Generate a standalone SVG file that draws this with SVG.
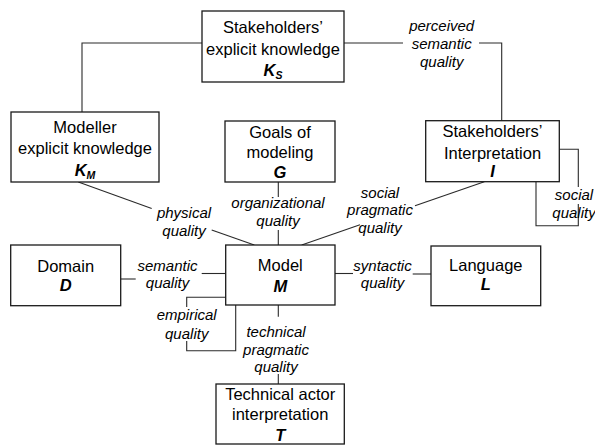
<svg xmlns="http://www.w3.org/2000/svg" width="595" height="445" viewBox="0 0 595 445">
<style>
.box{fill:#fff;stroke:#1a1a1a;stroke-width:1.3}
.t{font-family:"Liberation Sans",Arial,sans-serif;font-size:16.5px;fill:#000;text-anchor:middle}
.s{font-weight:bold;font-style:italic}
.sub{font-size:10.5px}
.l{font-family:"Liberation Sans",Arial,sans-serif;font-size:15px;font-style:italic;fill:#000;text-anchor:middle}
.c{fill:none;stroke:#2a2a2a;stroke-width:1.1}
</style>
<rect width="595" height="445" fill="#fff"/>
<g id="connectors">
<polyline class="c" points="202,43 82,43 82,112"/>
<line class="c" x1="344" y1="43" x2="403" y2="43"/>
<polyline class="c" points="479,43 501.7,43 501.7,120.7"/>
<polyline class="c" points="559.3,149.3 578.3,149.3 578.3,187"/>
<polyline class="c" points="578.3,204 578.3,225.7 536,225.7 536,181.7"/>
<line class="c" x1="278.3" y1="182" x2="278.3" y2="197"/>
<line class="c" x1="278.3" y1="230" x2="278.3" y2="245"/>
<line class="c" x1="78.3" y1="182" x2="151.7" y2="208.4"/>
<line class="c" x1="211.7" y1="229.9" x2="254.3" y2="245"/>
<line class="c" x1="484.3" y1="181.7" x2="415" y2="205.7"/>
<line class="c" x1="360" y1="224.8" x2="301.7" y2="245"/>
<line class="c" x1="120.7" y1="279" x2="135.7" y2="279"/>
<line class="c" x1="201.7" y1="273.5" x2="225.7" y2="273.5"/>
<line class="c" x1="335" y1="273.5" x2="353" y2="273.5"/>
<line class="c" x1="412.7" y1="274" x2="431" y2="274"/>
<polyline class="c" points="225.7,297.3 186.7,297.3 186.7,307"/>
<polyline class="c" points="186.7,341 186.7,350.7 235.7,350.7 235.7,305"/>
<line class="c" x1="278.3" y1="305" x2="278.3" y2="316.7"/>
<line class="c" x1="278.3" y1="374" x2="278.3" y2="384"/>
</g>
<g id="labels">
<text class="l" x="441.7" y="31">perceived</text>
<text class="l" x="441.7" y="49">semantic</text>
<text class="l" x="441.7" y="66.5">quality</text>
<text class="l" x="574" y="200">social</text>
<text class="l" x="574" y="217.5">quality</text>
<text class="l" x="278" y="208">organizational</text>
<text class="l" x="278" y="226">quality</text>
<text class="l" x="184" y="217.5">physical</text>
<text class="l" x="184" y="235.5">quality</text>
<text class="l" x="380" y="197.5">social</text>
<text class="l" x="380" y="215">pragmatic</text>
<text class="l" x="380" y="232.5">quality</text>
<text class="l" x="167.5" y="270.5">semantic</text>
<text class="l" x="167.5" y="288">quality</text>
<text class="l" x="382.5" y="270.5">syntactic</text>
<text class="l" x="382.5" y="288">quality</text>
<text class="l" x="186.7" y="320">empirical</text>
<text class="l" x="186.7" y="338.5">quality</text>
<text class="l" x="276" y="337">technical</text>
<text class="l" x="276" y="354.5">pragmatic</text>
<text class="l" x="276" y="371.5">quality</text>
</g>
<g id="Ks">
<rect class="box" x="202" y="11" width="142" height="71"/>
<text class="t" x="273" y="33">Stakeholders’</text>
<text class="t" x="273" y="54.5">explicit knowledge</text>
<text class="t s" x="273" y="76">K<tspan class="sub" dy="3">S</tspan></text>
</g>
<g id="KM">
<rect class="box" x="11" y="112" width="148" height="70"/>
<text class="t" x="85" y="133">Modeller</text>
<text class="t" x="85" y="153.5">explicit knowledge</text>
<text class="t s" x="85" y="175.5">K<tspan class="sub" dy="3">M</tspan></text>
</g>
<g id="G">
<rect class="box" x="225" y="121" width="110" height="61"/>
<text class="t" x="280" y="138">Goals of</text>
<text class="t" x="280" y="158.3">modeling</text>
<text class="t s" x="280" y="178.3">G</text>
</g>
<g id="I">
<rect class="box" x="425.7" y="120.7" width="133.6" height="61"/>
<text class="t" x="492.5" y="136.7">Stakeholders’</text>
<text class="t" x="492.5" y="158.7">Interpretation</text>
<text class="t s" x="492.5" y="177.3">I</text>
</g>
<g id="M">
<rect class="box" x="225.7" y="245" width="109.3" height="60"/>
<text class="t" x="280.3" y="271">Model</text>
<text class="t s" x="280.3" y="292">M</text>
</g>
<g id="D">
<rect class="box" x="10.7" y="245" width="110" height="60.7"/>
<text class="t" x="65.7" y="271.5">Domain</text>
<text class="t s" x="65.7" y="291">D</text>
</g>
<g id="L">
<rect class="box" x="431" y="246" width="109.7" height="59.7"/>
<text class="t" x="485.8" y="270.7">Language</text>
<text class="t s" x="485.8" y="290">L</text>
</g>
<g id="T">
<rect class="box" x="216" y="384" width="128.3" height="60"/>
<text class="t" x="280.2" y="400">Technical actor</text>
<text class="t" x="280.2" y="420">interpretation</text>
<text class="t s" x="280.2" y="441">T</text>
</g>
</svg>
